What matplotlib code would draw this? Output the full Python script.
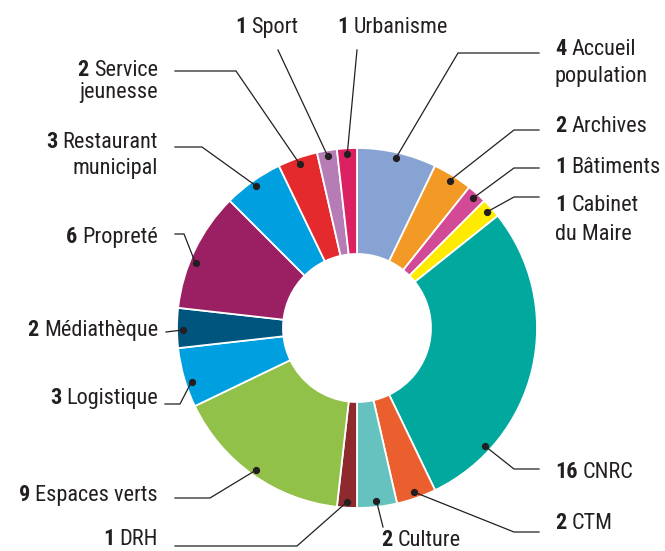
import numpy as np
import matplotlib
matplotlib.use("Agg")
import matplotlib.pyplot as plt

# ---------------- data ----------------
services = ["Accueil population", "Archives", "Bâtiments", "Cabinet du Maire", "CNRC",
            "CTM", "Culture", "DRH", "Espaces verts", "Logistique", "Médiathèque",
            "Propreté", "Restaurant municipal", "Service jeunesse", "Sport", "Urbanisme"]
counts = [4, 2, 1, 1, 16, 2, 2, 1, 9, 3, 2, 6, 3, 2, 1, 1]
label_lines = [["Accueil", "population"], ["Archives"], ["Bâtiments"], ["Cabinet", "du Maire"],
               ["CNRC"], ["CTM"], ["Culture"], ["DRH"], ["Espaces verts"], ["Logistique"],
               ["Médiathèque"], ["Propreté"], ["Restaurant", "municipal"], ["Service", "jeunesse"],
               ["Sport"], ["Urbanisme"]]
colors = ["#87A3D4", "#F39A26", "#D24996", "#FFEB00", "#00A89D", "#EA5F2D", "#66C2BE",
          "#8E2A2E", "#92C14A", "#009FE0", "#00557E", "#9B1F63", "#009FE0", "#E52A2E",
          "#B57CB5", "#DB2162"]

# ---------------- layout (pixel coords, y downward) ----------------
CX, CY, R, W = 357, 328, 180, 106
DOT_R = 174
# fraction along slice where the dot sits
dot_frac = [0.5, 0.5, 0.5, 0.5, 0.79, 0.5, 0.5, 0.5, 0.5, 0.4, 0.45, 0.4, 0.5, 0.5, 0.5, 0.5]
# leader path after the dot: list of points
leader = [
    [(458, 53), (539, 53)],
    [(514, 130), (539, 130)],
    [(514, 168), (539, 168)],
    [(514, 197), (539, 197)],
    [(514, 469), (539, 469)],
    [(514, 532), (539, 532)],
    [(383, 527)],
    [(297, 546), (175, 546)],
    [(210, 498), (175, 498)],
    [(180, 404), (165, 404)],
    [(166, 332)],
    [(184, 234), (175, 234)],
    [(202, 147), (175, 147)],
    [(236, 71), (175, 71)],
    [(278, 50)],
    [(357, 50)],
]
# text anchor x, first baseline y, alignment, line spacing
text_pos = [
    (555, 55, "left", 27), (555, 132, "left", 26), (555, 173, "left", 26), (555, 211, "left", 29),
    (555, 478, "left", 26), (555, 529, "left", 26), (381, 546, "left", 26), (158, 545, "right", 26),
    (158, 501, "right", 26), (158, 404, "right", 26), (158, 336, "right", 26), (158, 243, "right", 26),
    (158, 148, "right", 26), (158, 76, "right", 22), (235, 33, "left", 26), (337, 33, "left", 26),
]

FONT = ["Roboto Condensed", "Liberation Sans", "DejaVu Sans"]
FS = 16
TXT = "#231F20"

fig = plt.figure(figsize=(6.65, 5.51), dpi=100)
ax = fig.add_axes([0, 0, 1, 1])

wedges, _ = ax.pie(counts, colors=colors, startangle=-90, counterclock=True,
                   radius=R, center=(CX, CY),
                   wedgeprops=dict(width=W, edgecolor="white", linewidth=1.3))
ax.set_xlim(0, 665)
ax.set_ylim(551, 0)
ax.set_aspect("equal")
ax.axis("off")

renderer = fig.canvas.get_renderer()
total = sum(counts)
cum = np.concatenate([[0], np.cumsum(counts)])

for i in range(len(counts)):
    # visual angle clockwise from top
    a = (cum[i] + dot_frac[i] * counts[i]) / total * 2 * np.pi
    dx, dy = CX + DOT_R * np.sin(a), CY - DOT_R * np.cos(a)
    pts = [(dx, dy)] + leader[i]
    xs, ys = zip(*pts)
    ax.plot(xs, ys, color=TXT, lw=0.9, solid_joinstyle="miter", zorder=5)
    ax.plot([dx], [dy], "o", color=TXT, ms=4.2, zorder=6)

    tx, ty, ha, sp = text_pos[i]
    lines = label_lines[i]
    num = str(counts[i])
    gap = 5
    if ha == "left":
        tn = ax.text(tx, ty, num, ha="left", va="baseline", fontsize=FS, fontweight="bold",
                     family=FONT, color=TXT)
        wn = tn.get_window_extent(renderer).width
        ax.text(tx + wn + gap, ty, lines[0], ha="left", va="baseline", fontsize=FS,
                family=FONT, color=TXT)
        for k, ln in enumerate(lines[1:], 1):
            ax.text(tx, ty + k * sp, ln, ha="left", va="baseline", fontsize=FS,
                    family=FONT, color=TXT)
    else:
        tl = ax.text(tx, ty, lines[0], ha="right", va="baseline", fontsize=FS,
                     family=FONT, color=TXT)
        wl = tl.get_window_extent(renderer).width
        ax.text(tx - wl - gap, ty, num, ha="right", va="baseline", fontsize=FS,
                fontweight="bold", family=FONT, color=TXT)
        for k, ln in enumerate(lines[1:], 1):
            ax.text(tx, ty + k * sp, ln, ha="right", va="baseline", fontsize=FS,
                    family=FONT, color=TXT)

fig.savefig("out.png", dpi=100)
